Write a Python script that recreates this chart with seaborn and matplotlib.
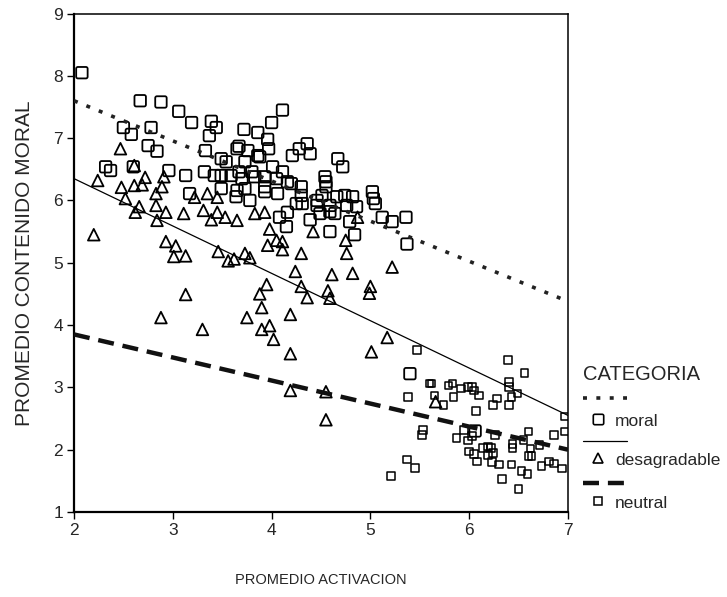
import numpy as np
import matplotlib
matplotlib.use("Agg")
import matplotlib.pyplot as plt
import seaborn as sns
from matplotlib.path import Path
from matplotlib.lines import Line2D

# values
moral_x = [2.08, 2.67, 2.88, 3.06, 3.19, 3.39, 3.44, 3.37, 2.50, 2.58, 2.78, 2.75, 2.84,
           3.33, 3.49, 3.54, 3.65, 2.32, 2.37, 2.60, 2.96, 3.13, 3.32, 3.42, 3.49, 3.59,
           3.49, 3.17, 3.64, 3.65, 4.11, 4.00, 3.72, 3.86, 3.96, 3.67, 3.76, 3.86, 3.88,
           3.97, 4.28, 4.36, 4.39, 4.21, 4.67, 4.72, 3.73, 4.01, 4.11, 3.67, 3.80, 3.70,
           3.83, 3.93, 4.05, 4.16, 4.20, 4.54, 4.55, 4.55, 3.73, 3.93, 3.93, 4.06, 4.30,
           4.30, 3.78, 4.46, 4.51, 4.66, 4.74, 4.82, 5.02, 5.03, 5.05, 4.25, 4.31, 4.46,
           4.59, 4.59, 4.64, 4.76, 4.86, 4.16, 4.49, 4.08, 4.39, 4.79, 4.15, 4.59, 4.84,
           5.12, 5.22, 5.36, 5.37, 5.40, 6.06]
moral_y = [8.05, 7.60, 7.58, 7.43, 7.25, 7.27, 7.17, 7.04, 7.17, 7.06, 7.17, 6.88, 6.79,
           6.80, 6.67, 6.62, 6.83, 6.54, 6.48, 6.54, 6.48, 6.40, 6.46, 6.40, 6.40, 6.40,
           6.19, 6.11, 6.06, 6.16, 7.45, 7.25, 7.14, 7.09, 6.98, 6.87, 6.80, 6.72, 6.70,
           6.83, 6.83, 6.91, 6.75, 6.72, 6.67, 6.54, 6.62, 6.54, 6.46, 6.46, 6.46, 6.35,
           6.38, 6.38, 6.35, 6.30, 6.27, 6.38, 6.30, 6.22, 6.19, 6.22, 6.14, 6.11, 6.22,
           6.08, 6.00, 6.00, 6.08, 6.06, 6.08, 6.06, 6.14, 6.03, 5.95, 5.95, 5.95, 5.92,
           5.92, 5.82, 5.79, 5.92, 5.90, 5.81, 5.79, 5.73, 5.69, 5.66, 5.58, 5.50, 5.45,
           5.73, 5.66, 5.73, 5.30, 3.22, 2.30]

desag_x = [2.47, 2.61, 2.24, 2.72, 2.91, 2.48, 2.61, 2.69, 2.89, 2.83, 2.52, 2.66, 2.62,
           2.83, 2.93, 2.84, 3.11, 3.22, 3.35, 3.45, 3.31, 3.45, 3.39, 3.53, 3.65, 2.20,
           2.93, 3.03, 3.01, 3.13, 3.46, 3.56, 3.62, 3.83, 3.93, 3.98, 3.96, 4.05, 4.11,
           4.11, 4.42, 4.75, 4.87, 4.30, 4.76, 3.73, 3.78, 5.22, 4.24, 4.61, 4.82, 3.95,
           3.88, 4.30, 4.36, 4.57, 4.59, 5.00, 4.99, 3.90, 3.75, 4.19, 3.90, 3.98, 4.02,
           4.19, 5.17, 5.01, 4.19, 4.55, 4.55, 3.13, 2.88, 3.30, 5.66]
desag_y = [6.83, 6.56, 6.32, 6.37, 6.38, 6.21, 6.24, 6.25, 6.22, 6.11, 6.03, 5.90, 5.81,
           5.92, 5.81, 5.68, 5.79, 6.05, 6.11, 6.05, 5.84, 5.81, 5.69, 5.73, 5.68, 5.45,
           5.34, 5.27, 5.10, 5.11, 5.18, 5.03, 5.06, 5.79, 5.81, 5.54, 5.28, 5.36, 5.34,
           5.21, 5.50, 5.36, 5.73, 5.15, 5.15, 5.15, 5.08, 4.93, 4.86, 4.81, 4.83, 4.65,
           4.50, 4.62, 4.44, 4.55, 4.43, 4.62, 4.51, 4.28, 4.12, 4.17, 3.93, 3.99, 3.77,
           3.54, 3.80, 3.57, 2.95, 2.93, 2.48, 4.49, 4.12, 3.93, 2.77]

neutral_x = [5.47, 6.39, 6.56, 5.60, 5.62, 5.79, 5.83, 5.92, 5.99, 6.03, 6.05, 6.10, 5.38,
             5.65, 5.84, 5.74, 6.07, 6.28, 6.24, 6.40, 6.40, 6.43, 6.49, 6.40, 6.97, 5.53,
             5.52, 5.87, 5.95, 5.99, 6.03, 6.00, 6.05, 6.08, 6.14, 6.19, 6.22, 6.24, 6.19,
             6.23, 6.30, 6.26, 6.44, 6.44, 6.55, 6.60, 6.62, 6.60, 6.63, 6.71, 6.43, 6.53,
             6.59, 6.33, 6.50, 6.73, 6.81, 6.86, 6.94, 6.86, 6.97, 5.37, 5.45, 5.21]
neutral_y = [3.60, 3.44, 3.23, 3.06, 3.06, 3.03, 3.06, 2.98, 3.01, 3.01, 2.95, 2.87, 2.85,
             2.87, 2.85, 2.72, 2.62, 2.82, 2.72, 3.09, 3.01, 2.85, 2.90, 2.72, 2.53, 2.32,
             2.24, 2.19, 2.32, 2.15, 2.22, 1.97, 1.93, 1.81, 2.03, 2.05, 2.03, 1.95, 1.91,
             1.80, 1.76, 2.24, 2.09, 2.03, 2.16, 2.29, 2.02, 1.90, 1.90, 2.08, 1.76, 1.66,
             1.61, 1.53, 1.37, 1.74, 1.81, 1.78, 1.70, 2.24, 2.29, 1.84, 1.71, 1.58]

# fit lines (endpoints at x = 2 and x = 7)
fit_x = [2, 7]
fit_moral = [7.60, 4.38]
fit_desag = [6.35, 2.55]
fit_neutral = [3.85, 2.00]

categories = ["moral", "desagradable", "neutral"]
x_ticks = [2, 3, 4, 5, 6, 7]
y_ticks = [1, 2, 3, 4, 5, 6, 7, 8, 9]


def rounded_square(r=0.3, n=8):
    pts = []
    for cx, cy, a0 in [(1 - r, 1 - r, 0), (-1 + r, 1 - r, 90),
                       (-1 + r, -1 + r, 180), (1 - r, -1 + r, 270)]:
        t = np.radians(np.linspace(a0, a0 + 90, n))
        pts += list(zip(cx + r * np.cos(t), cy + r * np.sin(t)))
    pts.append(pts[0])
    return Path(np.array(pts), closed=True)


sns.set_style("white")
plt.rcParams["font.family"] = ["Liberation Sans", "DejaVu Sans"]

fig = plt.figure(figsize=(7.27, 5.97), dpi=100)
ax = fig.add_axes([74 / 727, 1 - 512 / 597, 494 / 727, 498.5 / 597])

rsq = rounded_square()
sns.scatterplot(x=moral_x, y=moral_y, marker=rsq, s=68, facecolor="none",
                edgecolor="black", linewidth=1.3, ax=ax, zorder=3)
sns.scatterplot(x=desag_x, y=desag_y, marker="^", s=70, facecolor="none",
                edgecolor="black", linewidth=1.3, ax=ax, zorder=3)
sns.scatterplot(x=neutral_x, y=neutral_y, marker="s", s=30, facecolor="none",
                edgecolor="black", linewidth=1.1, ax=ax, zorder=3)

ax.plot(fit_x, fit_moral, color="#222222", lw=2.6, linestyle=(0, (1.1, 2.6)), zorder=4)
ax.plot(fit_x, fit_desag, color="black", lw=0.9, zorder=4)
ax.plot(fit_x, fit_neutral, color="#111111", lw=3.2, linestyle=(0, (3.6, 2.0)), zorder=4)

ax.set_xlim(2, 7)
ax.set_ylim(1, 9)
ax.set_xticks(x_ticks)
ax.set_yticks(y_ticks)
ax.tick_params(axis="both", direction="out", length=5, width=1, color="black",
               labelsize=12.5, left=True, bottom=True, pad=3)
for side in ["left", "bottom"]:
    ax.spines[side].set_linewidth(1.6)
for side in ["top", "right"]:
    ax.spines[side].set_linewidth(1.1)
for s in ax.spines.values():
    s.set_color("black")

ax.set_xlabel("PROMEDIO ACTIVACION", fontsize=10.5, labelpad=25)
ax.set_ylabel("PROMEDIO CONTENIDO MORAL", fontsize=15, labelpad=14)

# legend drawn by hand: line sample on one row, marker + label on the next
def fx(px):
    return px / 727


def fy(py):
    return 1 - py / 597


fig.text(fx(583), fy(374), "CATEGORIA", fontsize=14.5, va="center", ha="left")
leg_lines = [
    (398, dict(color="#222222", lw=2.6, linestyle=(0, (1.1, 2.6)))),
    (441, dict(color="black", lw=0.9)),
    (483, dict(color="#111111", lw=3.2, linestyle=(0, (3.6, 2.0)))),
]
leg_marks = [(419, rsq, 7.5, 1.2), (458, "^", 7, 1.2), (501, "s", 5.5, 1.1)]
for (ly, kw), (my, mk, ms, mw), lab in zip(leg_lines, leg_marks, categories):
    fig.add_artist(Line2D([fx(583), fx(627)], [fy(ly), fy(ly)],
                          transform=fig.transFigure, **kw))
    fig.add_artist(Line2D([fx(598)], [fy(my)], transform=fig.transFigure,
                          marker=mk, markersize=ms, markerfacecolor="none",
                          markeredgecolor="black", markeredgewidth=mw, linestyle="none"))
    fig.text(fx(615), fy(my + 3), lab, fontsize=12.5, va="center", ha="left")

fig.savefig("out.png", dpi=100)
